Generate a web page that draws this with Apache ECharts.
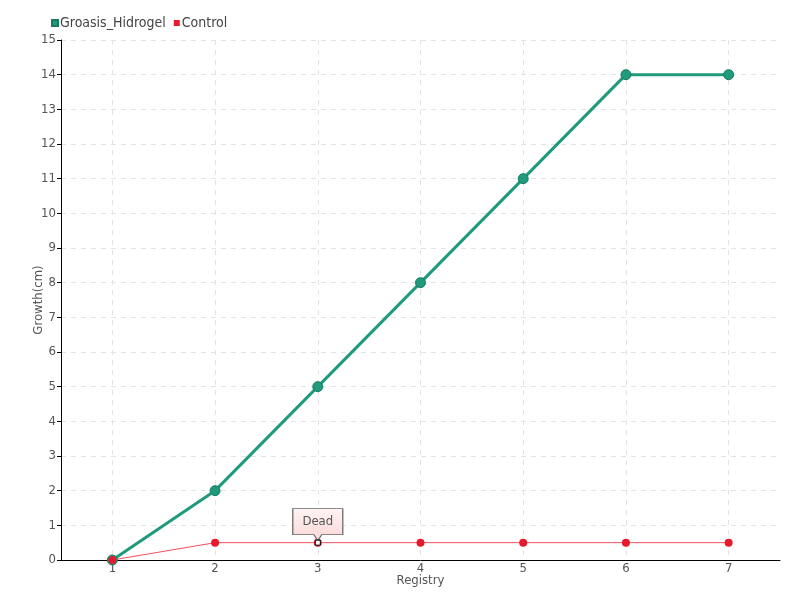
<!DOCTYPE html>
<html><head><meta charset="utf-8">
<script src="https://cdn.jsdelivr.net/npm/echarts@6/dist/echarts.min.js"></script>
<style>html,body{margin:0;padding:0;background:#fff}#c{width:800px;height:600px}</style>
</head><body><div id="c"></div>
<script>
const categories = ['1','2','3','4','5','6','7'];
const groasis = [0, 2, 5, 8, 11, 14, 14];
const control = [0, 0.5, 0.5, 0.5, 0.5, 0.5, 0.5];
const annotationIndex = 2;
const annotationText = 'Dead';

const FONT = '"DejaVu Sans Condensed", "Liberation Sans", sans-serif';
const chart = echarts.init(document.getElementById('c'));
chart.setOption({
  animation: false,
  textStyle: { fontFamily: FONT },
  legend: {
    left: 46, top: 11, itemWidth: 6, itemHeight: 6, itemGap: 8,
    icon: 'rect',
    textStyle: { fontFamily: FONT, fontSize: 14, color: '#444', padding: [0,0,0,-3] },
    data: ['Groasis_Hidrogel', 'Control']
  },
  grid: { left: 61, right: 20, top: 40, bottom: 40 },
  xAxis: {
    type: 'category', data: categories, boundaryGap: true,
    name: 'Registry', nameLocation: 'middle', nameGap: 14, nameMoveOverlap: false,
    nameTextStyle: { fontFamily: FONT, fontSize: 13, color: '#555', verticalAlign: 'top' },
    axisLine: { lineStyle: { color: '#000', width: 1 } },
    axisTick: { alignWithLabel: true, length: 5, lineStyle: { color: '#000' } },
    axisLabel: { fontFamily: FONT, fontSize: 13, color: '#555', margin: 2 },
    splitLine: { show: true, alignWithLabel: true, lineStyle: { type: [5, 5], color: '#e3e3e3' } }
  },
  yAxis: {
    type: 'value', min: 0, max: 15, interval: 1,
    name: 'Growth(cm)', nameLocation: 'middle', nameGap: 16, nameMoveOverlap: false,
    nameTextStyle: { fontFamily: FONT, fontSize: 13, color: '#555' },
    axisLine: { show: true, lineStyle: { color: '#000', width: 1 } },
    axisTick: { show: true, length: 4, lineStyle: { color: '#000' } },
    axisLabel: { fontFamily: FONT, fontSize: 13, color: '#555', margin: 5 },
    splitLine: { show: true, lineStyle: { type: [5, 5], color: '#e3e3e3' } }
  },
  series: [
    {
      name: 'Groasis_Hidrogel', type: 'line', data: groasis,
      symbol: 'circle', symbolSize: 10,
      lineStyle: { color: '#1f9b7c', width: 3 },
      itemStyle: { color: '#1f9b7c', borderColor: '#197a61', borderWidth: 1 }
    },
    {
      name: 'Control', type: 'line', data: control,
      symbol: 'circle', symbolSize: 8,
      lineStyle: { color: '#f0505c', width: 1 },
      itemStyle: { color: '#e8192c' },
      markPoint: {
        data: [
          {
            coord: [annotationIndex, control[annotationIndex]],
            symbol: 'path://M0,0 L50,0 L50,26 L29,26 L25,32 L21,26 L0,26 Z',
            symbolSize: [50, 32], symbolOffset: [0, -18],
            itemStyle: {
              color: new echarts.graphic.LinearGradient(0, 0, 0, 1, [
                { offset: 0, color: '#fff4f4' }, { offset: 1, color: '#fbd6d6' }
              ]),
              borderColor: '#666', borderWidth: 1
            },
            label: { show: true, formatter: annotationText, fontFamily: FONT, fontSize: 13, color: '#555', offset: [0, -3] }
          },
          {
            coord: [annotationIndex, control[annotationIndex]],
            symbol: 'rect', symbolSize: 5,
            itemStyle: { color: '#fff', borderColor: '#000', borderWidth: 1 },
            label: { show: false }
          }
        ]
      }
    }
  ]
});
</script></body></html>
